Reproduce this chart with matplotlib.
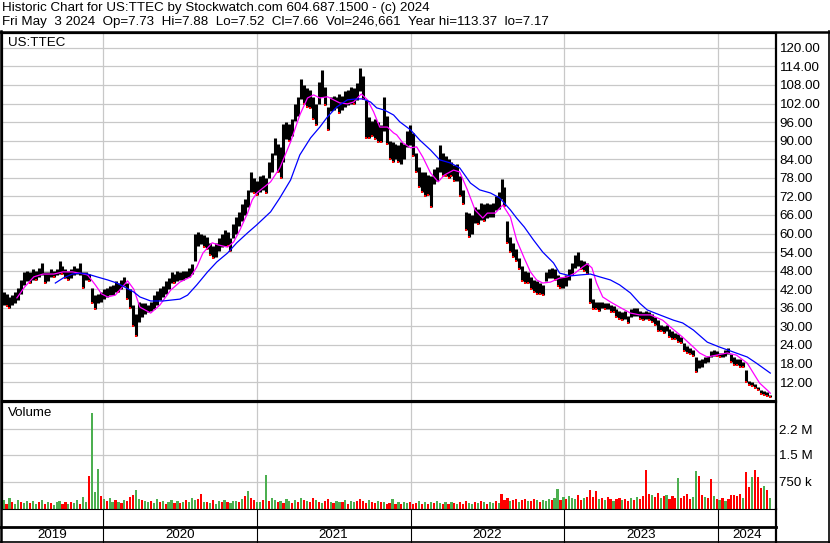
import numpy as np
import pandas as pd
import matplotlib
matplotlib.use('Agg')
import matplotlib.pyplot as plt

plt.rcParams['font.family'] = ['Liberation Sans', 'DejaVu Sans']

# weekly high / low (US:TTEC), first week ending Fri May 3 2019
week_hi = [
    40, 41, 40.5, 39.5, 40, 41, 42.5, 45, 47.5, 48,
    47.5, 48.5, 48, 49, 50.5, 47.5, 47.5, 48.5, 48, 48.5,
    51, 49.5, 48.5, 48, 48.5, 49.5, 49, 50.5, 47.5, 47.5,
    47, 42.5, 40, 40.5, 41, 42, 42.5, 43, 43.5, 44.5,
    44, 45, 46, 44, 42, 37, 34, 38, 37.5, 37.5,
    37, 38, 40, 41.5, 42.5, 43, 44.5, 45.5, 47.5, 47,
    48, 47.5, 48, 48, 49, 50, 60, 60.5, 60, 59.5,
    59, 57, 56, 57, 58.5, 60, 61, 60.5, 58.5, 63,
    65.5, 67, 69.5, 71, 74, 80, 78, 77, 78.5, 79,
    78, 83, 86, 91, 89, 88, 95.5, 96, 95.5, 97,
    102, 104, 110, 108, 107, 106.5, 104, 102, 109, 113,
    107.5, 101, 104, 104.5, 104, 105, 104.5, 106, 106.5, 107.5,
    107, 108.5, 113.4, 111, 103, 97.5, 96.5, 97, 96, 95,
    104, 98, 90, 89.5, 89, 88.5, 89.5, 89, 93, 95,
    92.5, 86, 81.5, 80, 80, 79, 78.5, 81, 81.5, 88.5,
    86, 85, 84, 83, 82, 82.5, 78.5, 74, 67, 66.5,
    66, 68.5, 68, 70, 69.5, 70, 69.5, 70, 72, 73.5,
    77.5, 75, 64, 59, 57, 55, 52, 49.5, 48, 47.5,
    46, 45, 44.5, 44, 43.5, 47.5, 48.5, 49, 48.5, 46.5,
    46, 46, 46.5, 48.5, 50.5, 53, 54, 51.5, 51, 50.5,
    45.5, 39, 38, 38, 38, 37.5, 37.5, 37, 36.5, 35.5,
    35, 34.5, 35, 33.5, 35.5, 36, 36, 35, 34.5, 35,
    34.5, 34, 33, 32, 30.5, 30, 30.5, 29, 28.5, 28,
    27.5, 26.5, 24.5, 23.5, 23, 22.5, 20, 19, 19.5, 20,
    20.5, 22, 22.5, 22, 21.5, 21.5, 22.5, 23, 21, 20,
    19.5, 19.5, 18.5, 16, 12.5, 12, 11.5, 10.5, 9.5, 9,
    8.7, 7.9]
week_lo = [
    36, 37, 36.5, 36, 37, 37.5, 38.5, 40.5, 43.5, 44.5,
    44, 45, 45, 46, 46.5, 44, 44.5, 46, 46, 46.5,
    47, 47, 45.5, 45, 45.5, 46.5, 47, 46.5, 42.5, 45,
    44.5, 37.5, 35.5, 37.5, 38, 39, 39.5, 40, 40, 41,
    41, 42, 43, 39, 36, 30, 26.8, 31.5, 33, 34,
    34.5, 35, 35.5, 37, 38.5, 39.5, 40.5, 42, 44, 44,
    44.5, 45, 45, 45.5, 46, 47, 51, 56, 56.5, 55.5,
    55, 53, 52, 52.5, 54.5, 55.5, 56, 56, 54.5, 58.5,
    60, 62.5, 64, 66, 68.5, 73.5, 73, 72.5, 73.5, 74,
    73, 78, 80, 85.5, 80, 78, 83, 90.5, 90, 91.5,
    96.5, 98, 103.5, 102, 101, 100.5, 97, 95, 102, 104,
    101.5, 93.5, 99.5, 100, 100.5, 99, 100, 101, 101.5, 102,
    102, 103, 106, 103.5, 91, 91, 91.5, 90.5, 89.5, 89.5,
    93, 89, 84, 83, 84, 83, 82.5, 84, 88, 88.5,
    85, 80, 75, 73.5, 72, 72.5, 68.5, 76, 77, 80,
    78.5, 78.5, 78, 78.5, 77, 77, 72, 69.5, 61, 59,
    60, 63.5, 63, 64.5, 64, 65, 65.5, 65.5, 67.5, 68,
    71, 69, 57, 54, 52.5, 51, 48.5, 44.5, 44, 44,
    42, 41, 40.5, 40.5, 40, 44.5, 45.5, 45.5, 45, 43,
    42.5, 42.5, 43, 45, 46.5, 49, 49.5, 48.5, 48, 47,
    37.5, 35.5, 35.5, 35, 36, 35.5, 35.5, 34.5, 34.5, 33,
    32.5, 32, 32.5, 31, 33, 33.5, 33.5, 32.5, 32, 32.5,
    32, 31.5, 30.5, 28.5, 28.5, 28, 28.5, 26.5, 26, 26,
    25, 24.5, 22, 21.5, 21, 20.5, 15.3, 16.5, 17, 18,
    18.5, 20, 20.5, 20.5, 20, 20, 20.5, 21, 18.5, 17.5,
    17.5, 17, 16.8, 12, 11, 10.8, 10, 9.3, 8.3, 7.8,
    7.4, 7.2]
# weekly volume, thousands of shares; g = up, r = down
week_vol = [
    180, 260, 150, 300, 200, 140, 250, 190, 170, 230,
    160, 210, 130, 180, 250, 140, 200, 170, 120, 190,
    220, 150, 180, 130, 200, 160, 240, 140, 330, 180,
    920, 2650, 460, 1110, 350, 280, 220, 300, 190, 250,
    200, 170, 260, 230, 320, 380, 530, 290, 250, 210,
    180, 230, 160, 270, 190, 220, 150, 200, 240, 170,
    210, 160, 190, 250, 180, 300, 260, 280, 420, 190,
    200, 170, 260, 150, 220, 180, 240, 190, 160, 210,
    230, 180, 270, 350, 490, 300, 250, 200, 180, 260,
    950, 220, 300, 260, 190, 230, 170, 280, 210, 160,
    240, 190, 300, 260, 220, 180, 310, 250, 200, 170,
    230, 270, 190, 160, 220, 200, 180, 240, 150, 210,
    190, 230, 280, 210, 170, 250, 190, 160, 220, 180,
    200, 140, 170, 290, 150, 190, 130, 180, 160, 200,
    140, 170, 210, 150, 190, 130, 180, 160, 220, 170,
    150, 190, 140, 200, 160, 130, 180, 150, 210, 170,
    140, 190, 160, 220, 180, 150, 200, 170, 230, 160,
    420, 260, 300, 220, 250, 280, 200, 240, 270, 210,
    230, 290, 250, 200, 260, 220, 280, 240, 300, 560,
    260, 330, 280, 350, 300, 270, 380, 260, 300, 320,
    520, 340, 490, 280, 300, 250, 330, 270, 220, 290,
    310, 240, 280, 220, 300, 260, 320, 280, 350, 1090,
    420, 380, 330, 450, 300, 360, 400, 280, 350, 310,
    860, 300, 350, 420, 290, 330, 1040, 900, 380, 340,
    300, 840, 360, 280, 250, 300, 230, 270, 400, 380,
    350, 420, 310, 1010, 600, 880, 1070, 880, 580, 650,
    520, 300]
vol_dir = ("ggrgrggrgg" "rggrgrgrgg" "grrgrggrgg" "rgggrgrggr" "grgrrrggrg"
           "grggrgrggr" "grgrgggrrg" "rgrggrgrgg" "grgrgrrggr" "grggrgrggr"
           "grgrgrrgrg" "rrgrggrgrg" "grrrrgrrgr" "grrgrgrggr" "rrgrgrgrgg"
           "rgrgrgrrrg" "grgrgrggrg" "rrrgrrgrrg" "rrgrgggrgg" "rgrgggrrgr"
           "rrrgrgrrgr" "rgrrgrgrrr" "rgrrgrgrrr" "grrrrggrrg" "rrgrgrgrrr"
           "rrgrrgrrrgrg")

# moving averages (time in decimal years)
fast_ma_t = [2019.44, 2019.49, 2019.55, 2019.61, 2019.68, 2019.74, 2019.80, 2019.85, 2019.90, 2019.95,
             2019.99, 2020.03, 2020.08, 2020.12, 2020.16, 2020.20, 2020.24, 2020.31, 2020.37, 2020.44,
             2020.50, 2020.57, 2020.61, 2020.65, 2020.71, 2020.75, 2020.81, 2020.85, 2020.89, 2020.94,
             2020.97, 2021.00, 2021.04, 2021.09, 2021.15, 2021.22, 2021.28, 2021.33, 2021.37, 2021.41,
             2021.46, 2021.50, 2021.54, 2021.59, 2021.63, 2021.68, 2021.72, 2021.76, 2021.80, 2021.85,
             2021.89, 2021.91, 2021.95, 2022.00, 2022.04, 2022.08, 2022.13, 2022.18, 2022.22, 2022.28,
             2022.32, 2022.37, 2022.42, 2022.47, 2022.50, 2022.55, 2022.60, 2022.65, 2022.69, 2022.74,
             2022.78, 2022.82, 2022.86, 2022.91, 2022.97, 2023.02, 2023.07, 2023.12, 2023.15, 2023.18,
             2023.21, 2023.25, 2023.30, 2023.36, 2023.43, 2023.49, 2023.56, 2023.64, 2023.69, 2023.77,
             2023.84, 2023.88, 2023.93, 2023.99, 2024.06, 2024.12, 2024.19, 2024.23, 2024.27, 2024.32,
             2024.34]
fast_ma = [39.2, 42.7, 46.0, 46.9, 46.9, 47.6, 47.6, 47.2, 46.6, 43.4,
           40.5, 39.5, 40.1, 42.4, 44.7, 42.0, 36.2, 34.3, 36.9, 41.7,
           44.3, 46.0, 49.2, 53.7, 57.0, 56.3, 55.6, 57.3, 61.1, 66.6,
           70.8, 73.1, 74.7, 76.7, 81.2, 89.6, 98.3, 103.8, 104.8, 103.8,
           104.2, 103.2, 102.2, 101.9, 102.5, 105.1, 103.2, 99.3, 94.4, 94.4,
           92.5, 91.9, 89.3, 87.7, 88.0, 84.7, 79.6, 76.7, 78.9, 80.5,
           79.9, 74.1, 67.6, 65.0, 66.6, 66.6, 69.2, 65.3, 57.9, 52.0,
           47.6, 45.0, 44.0, 44.3, 45.6, 46.0, 47.2, 49.2, 50.2, 48.9,
           44.0, 39.5, 37.9, 36.2, 34.3, 33.7, 33.7, 32.0, 29.8, 26.5,
           23.3, 21.4, 20.1, 20.7, 21.4, 20.7, 18.1, 14.9, 11.7, 9.4,
           8.4]
slow_ma_t = [2019.69, 2019.74, 2019.80, 2019.85, 2019.90, 2019.96, 2020.03, 2020.09, 2020.14, 2020.20,
             2020.24, 2020.31, 2020.39, 2020.50, 2020.55, 2020.61, 2020.68, 2020.74, 2020.81, 2020.87,
             2020.94, 2021.00, 2021.09, 2021.15, 2021.22, 2021.28, 2021.35, 2021.41, 2021.46, 2021.52,
             2021.59, 2021.65, 2021.69, 2021.74, 2021.78, 2021.83, 2021.89, 2021.93, 2022.00, 2022.06,
             2022.13, 2022.19, 2022.26, 2022.32, 2022.39, 2022.45, 2022.52, 2022.58, 2022.65, 2022.69,
             2022.74, 2022.80, 2022.86, 2022.93, 2022.97, 2023.04, 2023.10, 2023.17, 2023.23, 2023.30,
             2023.36, 2023.43, 2023.49, 2023.54, 2023.59, 2023.71, 2023.77, 2023.84, 2023.93, 2024.01,
             2024.10, 2024.19, 2024.25, 2024.34]
slow_ma = [44.0, 45.6, 46.9, 47.2, 46.9, 46.0, 45.0, 44.0, 42.7, 41.1,
           39.5, 38.2, 38.2, 38.8, 40.1, 43.4, 47.6, 50.8, 53.7, 57.0,
           60.2, 62.8, 67.0, 71.5, 77.3, 85.4, 90.9, 94.4, 97.7, 100.9,
           103.2, 103.5, 103.5, 102.5, 100.6, 99.9, 98.3, 96.1, 93.5, 90.2,
           87.0, 83.8, 82.8, 81.2, 76.3, 74.1, 73.1, 71.5, 67.6, 65.0,
           62.1, 57.9, 54.0, 50.5, 47.2, 46.3, 46.6, 46.9, 46.0, 45.0,
           43.4, 40.8, 37.5, 35.3, 34.3, 32.0, 31.1, 28.8, 24.9, 23.3,
           21.7, 20.1, 18.1, 14.9]

years = ['2019', '2020', '2021', '2022', '2023', '2024']
year_edges = [2020, 2021, 2022, 2023, 2024]
price_ticks = list(range(12, 121, 6))
vol_ticks = [750e3, 1.5e6, 2.2e6]
vol_labels = ['750 k', '1.5 M', '2.2 M']

assert len(week_hi) == len(week_lo) == len(week_vol) == len(vol_dir)
assert len(fast_ma_t) == len(fast_ma) and len(slow_ma_t) == len(slow_ma)

dates = pd.date_range('2019-05-03', periods=len(week_hi), freq='7D')
t = 2019 + (dates - pd.Timestamp('2019-01-01')).days.values / 365.25
hi = np.array(week_hi)
lo = np.array(week_lo)
vol = np.array(week_vol) * 1000
up = np.array([c == 'g' for c in vol_dir])

W, H = 830, 543
PXY = 153.75          # pixels per year
T0 = 2019.33          # time at image x = 0


def box(x0, y0, x1, y1):
    return [x0 / W, 1 - y1 / H, (x1 - x0) / W, (y1 - y0) / H]


fig = plt.figure(figsize=(W / 100, H / 100), dpi=100)
fig.patch.set_facecolor('white')
grid_c = '#c8c8c8'
xlim = (T0 + 2 / PXY, T0 + 776 / PXY)
fs = 9.6

# ---- price panel
ax = fig.add_axes(box(2, 33, 776, 400))
ax.set_xlim(*xlim)
ax.set_ylim(6.2, 124.8)
for p in price_ticks:
    ax.axhline(p, color=grid_c, lw=0.9, zorder=0)
for e in year_edges:
    ax.axvline(e, color=grid_c, lw=0.9, zorder=0)
ax.vlines(t, lo, hi, color='black', lw=2.2, zorder=2)
prev_mid = np.r_[np.nan, ((hi + lo) / 2)[:-1]]
down = (hi + lo) / 2 < prev_mid
ax.scatter(t[down], lo[down], s=3, marker='s', color='red', lw=0, zorder=3)
ax.plot(fast_ma_t, fast_ma, color='#ff00ff', lw=0.9, zorder=4)
ax.plot(slow_ma_t, slow_ma, color='#0000ff', lw=0.9, zorder=4)
ax.yaxis.tick_right()
ax.set_yticks(price_ticks)
ax.set_yticklabels([f'{p:.2f}' for p in price_ticks], fontsize=fs)
ax.tick_params(axis='y', length=0, pad=2.5)
ax.set_xticks([])
for s in ['left', 'top', 'right']:
    ax.spines[s].set_linewidth(1.6)
ax.spines['bottom'].set_linewidth(0.8)
ax.text(0.008, 0.988, 'US:TTEC', transform=ax.transAxes, fontsize=fs, va='top')

# ---- volume panel
axv = fig.add_axes(box(2, 402, 776, 509))
axv.set_xlim(*xlim)
axv.set_ylim(0, 2.96e6)
for v in vol_ticks:
    axv.axhline(v, color=grid_c, lw=0.9, zorder=0)
for e in year_edges:
    axv.axvline(e, color=grid_c, lw=0.9, zorder=0)
axv.bar(t[up], vol[up], width=5.2 / 365.25, color='#4caf50', lw=0, zorder=2)
axv.bar(t[~up], vol[~up], width=5.2 / 365.25, color='#ff0000', lw=0, zorder=2)
axv.yaxis.tick_right()
axv.set_yticks(vol_ticks)
axv.set_yticklabels(vol_labels, fontsize=fs)
axv.tick_params(axis='y', length=0, pad=2.5)
axv.set_xticks([])
for s in ['left', 'top', 'right']:
    axv.spines[s].set_linewidth(1.6)
axv.spines['bottom'].set_linewidth(0.8)
axv.text(0.008, 0.95, 'Volume', transform=axv.transAxes, fontsize=fs, va='top')

# ---- frame, header and year strip (pixel coordinates)
axf = fig.add_axes([0, 0, 1, 1], zorder=10)
axf.set_xlim(0, W)
axf.set_ylim(H, 0)
axf.axis('off')
axf.plot([0, W], [31.5, 31.5], color='black', lw=1.8)
axf.plot([1, 1], [31, H], color='black', lw=1.8)
axf.plot([829, 829], [31, H], color='black', lw=1.2)
axf.plot([0, 776], [526.5, 526.5], color='black', lw=2)
axf.plot([0, W], [541.5, 541.5], color='black', lw=1.2)
axf.plot([776, 776], [509, 542], color='black', lw=1.6)
for e in year_edges:
    xe = (e - T0) * PXY
    axf.plot([xe, xe], [509, 542], color='black', lw=0.8)
centers = [(2 + 103) / 2] + [((y - T0) + 0.5) * PXY for y in range(2020, 2024)] + [(718 + 776) / 2]
for lab, cx in zip(years, centers):
    axf.text(cx, 535, lab, ha='center', va='center', fontsize=fs)

axf.text(2, 8, 'Historic Chart for US:TTEC by Stockwatch.com 604.687.1500 - (c) 2024',
         va='center', fontsize=fs)
axf.text(2, 22, 'Fri May  3 2024  Op=7.73  Hi=7.88  Lo=7.52  Cl=7.66  Vol=246,661  Year hi=113.37  lo=7.17',
         va='center', fontsize=fs)

fig.savefig('out.png', dpi=100)
